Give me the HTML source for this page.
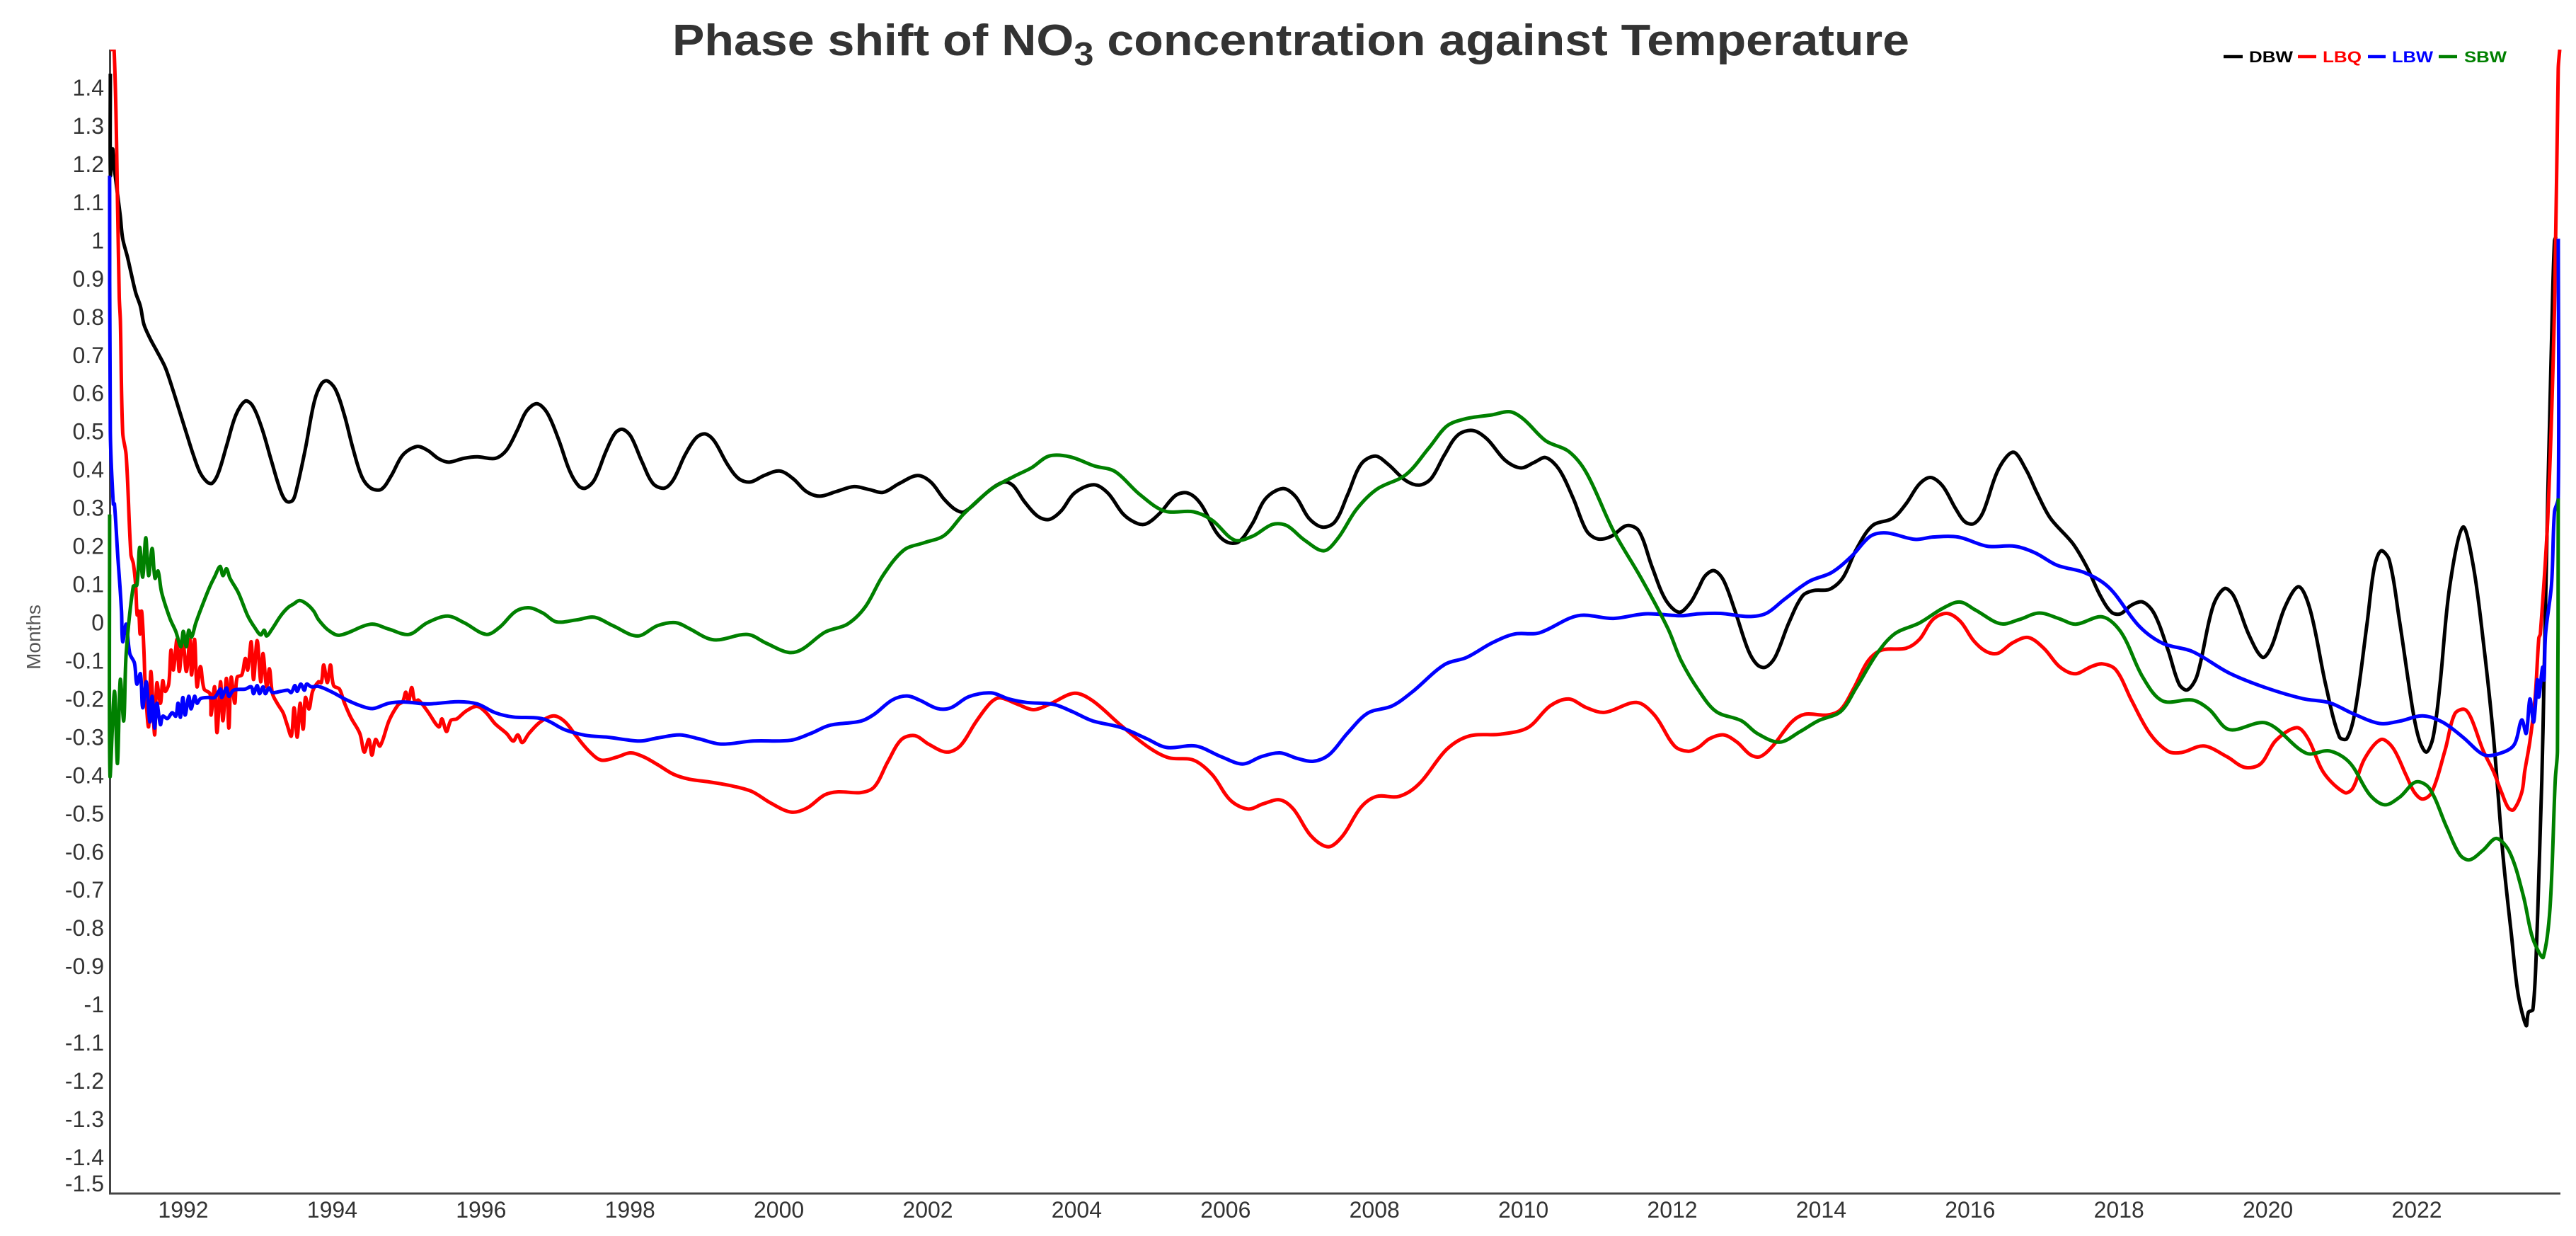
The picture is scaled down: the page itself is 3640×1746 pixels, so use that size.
<!DOCTYPE html>
<html>
<head>
<meta charset="utf-8">
<title>Phase shift of NO3 concentration against Temperature</title>
<style>
html,body{margin:0;padding:0;background:#fff;width:3640px;height:1746px;overflow:hidden}
svg{display:block;font-family:"Liberation Sans",Arial,sans-serif}
.tick{font-size:32px;fill:#333}
.leg{font-size:22px;font-weight:bold}
</style>
</head>
<body>
<svg id="chart" xmlns="http://www.w3.org/2000/svg" width="3640" height="1746" viewBox="0 0 3640 1746">
<rect x="0" y="0" width="3640" height="1746" fill="#ffffff"/>
<defs><clipPath id="plot-clip"><rect x="148" y="70" width="3480" height="1620"/></clipPath></defs>
<text x="950" y="78" font-size="62" font-weight="bold" fill="#333" textLength="1748" lengthAdjust="spacingAndGlyphs">Phase shift of NO<tspan font-size="46" dy="14">3</tspan><tspan dy="-14"> concentration against Temperature</tspan></text>
<text transform="translate(57,900) rotate(-90)" text-anchor="middle" font-size="28" fill="#555">Months</text>
<g id="y-ticks"></g>
<g id="x-ticks"></g>
<line x1="155.5" y1="70" x2="155.5" y2="1687" stroke="#444" stroke-width="3"/>
<line x1="154" y1="1686" x2="3618" y2="1686" stroke="#444" stroke-width="3"/>
<g id="series" clip-path="url(#plot-clip)" fill="none" stroke-width="5" stroke-linejoin="round" stroke-linecap="butt"></g>
<g>
<g>
<line x1="3142" y1="80" x2="3169" y2="80" stroke="#000" stroke-width="4.5"/>
<text class="leg" x="3178" y="88" fill="#000" textLength="62" lengthAdjust="spacingAndGlyphs">DBW</text>
</g>
<g>
<line x1="3247" y1="80" x2="3273" y2="80" stroke="#f00" stroke-width="4.5"/>
<text class="leg" x="3282" y="88" fill="#f00" textLength="55" lengthAdjust="spacingAndGlyphs">LBQ</text>
</g>
<g>
<line x1="3346" y1="80" x2="3371" y2="80" stroke="#00f" stroke-width="4.5"/>
<text class="leg" x="3380" y="88" fill="#00f" textLength="58" lengthAdjust="spacingAndGlyphs">LBW</text>
</g>
<g>
<line x1="3446" y1="80" x2="3472" y2="80" stroke="#008000" stroke-width="4.5"/>
<text class="leg" x="3482" y="88" fill="#008000" textLength="60" lengthAdjust="spacingAndGlyphs">SBW</text>
</g>
</g>
</svg>
<script>
const yTickValues = [1.4,1.3,1.2,1.1,1,0.9,0.8,0.7,0.6,0.5,0.4,0.3,0.2,0.1,0,-0.1,-0.2,-0.3,-0.4,-0.5,-0.6,-0.7,-0.8,-0.9,-1,-1.1,-1.2,-1.3,-1.4,-1.5];
const xTickYears = [1992,1994,1996,1998,2000,2002,2004,2006,2008,2010,2012,2014,2016,2018,2020,2022];

const dbwYears = [1991.02,1991.021,1991.05,1991.07,1991.154,1991.186,1991.249,1991.297,1991.36,1991.424,1991.471,1991.55,1991.63,1991.756,1991.851,1991.946,1992.04,1992.137,1992.23,1992.327,1992.39,1992.47,1992.58,1992.707,1992.834,1992.93,1993.055,1993.18,1993.31,1993.39,1993.47,1993.52,1993.64,1993.76,1993.855,1993.93,1994.04,1994.16,1994.28,1994.40,1994.52,1994.66,1994.795,1994.95,1995.14,1995.28,1995.43,1995.565,1995.765,1995.95,1996.19,1996.34,1996.49,1996.61,1996.75,1996.885,1997.04,1997.19,1997.31,1997.40,1997.52,1997.675,1997.8,1997.9,1998.01,1998.16,1998.31,1998.46,1998.58,1998.74,1998.89,1999.01,1999.13,1999.31,1999.46,1999.615,1999.8,2000.01,2000.19,2000.37,2000.55,2000.77,2001.01,2001.22,2001.40,2001.615,2001.86,2002.04,2002.22,2002.37,2002.49,2002.846,2003.03,2003.15,2003.30,2003.48,2003.63,2003.79,2003.97,2004.23,2004.42,2004.63,2004.82,2004.94,2005.12,2005.33,2005.495,2005.665,2005.88,2006.03,2006.18,2006.36,2006.54,2006.77,2006.94,2007.12,2007.30,2007.47,2007.64,2007.82,2008.01,2008.18,2008.42,2008.605,2008.76,2008.94,2009.12,2009.32,2009.51,2009.76,2009.97,2010.15,2010.30,2010.48,2010.67,2010.85,2011.0,2011.18,2011.39,2011.55,2011.73,2011.91,2012.09,2012.24,2012.35,2012.44,2012.56,2012.685,2012.84,2013.02,2013.14,2013.25,2013.38,2013.565,2013.75,2013.9,2014.11,2014.29,2014.475,2014.69,2014.96,2015.14,2015.32,2015.47,2015.63,2015.81,2015.93,2016.05,2016.17,2016.38,2016.58,2016.75,2016.9,2017.08,2017.38,2017.57,2017.75,2017.9,2018.02,2018.17,2018.32,2018.475,2018.66,2018.81,2018.92,2019.05,2019.26,2019.415,2019.54,2019.75,2019.93,2020.05,2020.23,2020.415,2020.57,2020.78,2020.96,2021.06,2021.17,2021.33,2021.43,2021.52,2021.63,2021.77,2021.95,2022.04,2022.13,2022.22,2022.31,2022.44,2022.62,2022.76,2022.89,2023.03,2023.16,2023.27,2023.36,2023.47,2023.5,2023.56,2023.61,2023.68,2023.71,2023.76,2023.82,2023.85,2023.87];
const dbwValues = [1.437,1.171,1.24,1.195,1.064,1.005,.958,.917,.864,.828,.781,.745,.716,.669,.615,.556,.497,.438,.391,.367,.365,.391,.462,.544,.58,.568,.509,.426,.343,.317,.32,.348,.455,.579,.625,.633,.612,.546,.455,.381,.352,.349,.385,.439,.461,.451,.429,.42,.43,.434,.43,.451,.505,.554,.573,.55,.48,.397,.358,.352,.373,.447,.496,.506,.488,.422,.364,.352,.373,.439,.484,.494,.476,.414,.377,.368,.385,.397,.377,.343,.331,.343,.356,.348,.341,.364,.385,.368,.323,.296,.29,.349,.368,.358,.316,.278,.27,.292,.339,.361,.339,.283,.259,.259,.287,.333,.339,.311,.235,.21,.212,.259,.325,.351,.33,.273,.25,.264,.335,.415,.436,.415,.372,.36,.377,.439,.491,.503,.481,.424,.405,.42,.432,.401,.325,.24,.219,.226,.254,.24,.145,.06,.027,.051,.089,.122,.136,.112,.032,-.072,-.11,-.117,-.091,-.001,.07,.084,.087,.117,.193,.254,.273,.311,.363,.38,.358,.297,.264,.259,.287,.401,.446,.401,.339,.273,.207,.145,.07,.027,.023,.046,.054,.023,-.072,-.162,-.176,-.138,.041,.089,.07,-.034,-.091,-.062,.041,.094,.032,-.166,-.299,-.304,-.233,-.006,.145,.188,.164,.002,-.233,-.311,-.339,-.3,-.166,.091,.25,.147,-.043,-.3,-.613,-.815,-.971,-1.055,-1.02,-1.013,-.837,-.412,-.136,.337,.82,1.0,1.01];

const lbqYears = [1991.02,1991.07,1991.12,1991.14,1991.155,1991.186,1991.233,1991.297,1991.33,1991.36,1991.38,1991.40,1991.42,1991.44,1991.47,1991.487,1991.534,1991.566,1991.614,1991.645,1991.693,1991.724,1991.756,1991.804,1991.835,1991.867,1991.915,1991.946,1991.994,1992.041,1992.089,1992.111,1992.152,1992.184,1992.231,1992.279,1992.358,1992.374,1992.421,1992.453,1992.5,1992.532,1992.58,1992.612,1992.643,1992.691,1992.723,1992.786,1992.833,1992.865,1992.913,1992.944,1992.992,1993.04,1993.071,1993.119,1993.157,1993.198,1993.261,1993.34,1993.388,1993.451,1993.489,1993.53,1993.569,1993.61,1993.641,1993.689,1993.737,1993.816,1993.855,1993.886,1993.934,1993.977,1994.019,1994.098,1994.158,1994.249,1994.371,1994.431,1994.492,1994.534,1994.583,1994.643,1994.765,1994.886,1994.947,1994.989,1995.025,1995.068,1995.11,1995.159,1995.28,1995.432,1995.474,1995.535,1995.595,1995.674,1995.795,1995.947,1996.068,1996.189,1996.341,1996.432,1996.493,1996.553,1996.644,1996.796,1996.977,1997.129,1997.281,1997.462,1997.614,1997.826,1998.008,1998.19,1998.372,1998.584,1998.796,1999.099,1999.402,1999.645,1999.887,2000.16,2000.373,2000.615,2000.797,2001.1,2001.282,2001.464,2001.646,2001.828,2002.009,2002.252,2002.434,2002.646,2002.846,2002.97,2003.21,2003.42,2003.63,2003.97,2004.21,2004.60,2004.97,2005.24,2005.57,2005.82,2006.06,2006.30,2006.51,2006.73,2006.91,2007.15,2007.38,2007.57,2007.82,2008.03,2008.33,2008.6,2008.97,2009.27,2009.7,2010.06,2010.36,2010.61,2010.85,2011.09,2011.52,2011.76,2012.03,2012.21,2012.35,2012.5,2012.69,2012.87,2013.05,2013.18,2013.35,2013.6,2013.78,2014.08,2014.26,2014.44,2014.63,2014.81,2015.14,2015.32,2015.5,2015.69,2015.87,2016.05,2016.23,2016.38,2016.57,2016.78,2016.99,2017.2,2017.41,2017.63,2017.78,2017.96,2018.17,2018.41,2018.66,2018.84,2019.14,2019.45,2019.69,2019.9,2020.11,2020.39,2020.54,2020.75,2021.03,2021.14,2021.3,2021.52,2021.68,2021.86,2021.97,2022.08,2022.2,2022.38,2022.51,2022.64,2022.73,2022.89,2023.03,2023.14,2023.23,2023.3,2023.41,2023.45,2023.52,2023.59,2023.64,2023.66,2023.76,2023.85,2023.9,2023.92];
const lbqValues = [1.5,1.5,1.065,.852,.79,.497,.438,.178,.154,.098,.02,.03,-.03,.03,-.066,-.155,-.273,-.128,-.294,-.158,-.211,-.152,-.18,-.161,-.072,-.124,-.044,-.128,-.044,-.128,-.044,-.137,-.044,-.168,-.115,-.174,-.186,-.242,-.168,-.288,-.155,-.257,-.146,-.276,-.143,-.211,-.143,-.137,-.094,-.124,-.05,-.149,-.047,-.155,-.081,-.168,-.121,-.186,-.211,-.236,-.263,-.297,-.223,-.3,-.211,-.279,-.196,-.226,-.18,-.155,-.157,-.111,-.157,-.111,-.165,-.174,-.207,-.248,-.29,-.339,-.306,-.347,-.306,-.323,-.256,-.215,-.207,-.182,-.207,-.17,-.207,-.203,-.232,-.273,-.252,-.285,-.256,-.252,-.232,-.219,-.236,-.265,-.29,-.31,-.294,-.314,-.29,-.26,-.244,-.26,-.298,-.339,-.36,-.352,-.341,-.352,-.372,-.397,-.41,-.418,-.429,-.443,-.472,-.496,-.486,-.451,-.443,-.445,-.43,-.364,-.306,-.296,-.318,-.339,-.323,-.26,-.209,-.197,-.214,-.228,-.214,-.185,-.204,-.27,-.327,-.354,-.36,-.398,-.464,-.488,-.474,-.464,-.488,-.559,-.587,-.559,-.483,-.455,-.455,-.422,-.332,-.297,-.292,-.275,-.218,-.2,-.223,-.235,-.209,-.242,-.323,-.337,-.327,-.304,-.294,-.313,-.346,-.351,-.323,-.261,-.24,-.242,-.228,-.171,-.1,-.072,-.067,-.044,.008,.024,.003,-.048,-.077,-.08,-.053,-.039,-.067,-.115,-.134,-.115,-.108,-.124,-.204,-.289,-.337,-.34,-.323,-.351,-.379,-.37,-.308,-.275,-.304,-.393,-.445,-.434,-.356,-.306,-.328,-.401,-.445,-.462,-.445,-.334,-.239,-.227,-.25,-.334,-.39,-.445,-.485,-.49,-.445,-.39,-.31,-.195,-.04,-.03,.277,.82,1.45,1.5];

const lbwYears = [1991.01,1991.02,1991.06,1991.075,1991.122,1991.15,1991.17,1991.186,1991.233,1991.281,1991.344,1991.376,1991.424,1991.455,1991.503,1991.55,1991.582,1991.614,1991.645,1991.693,1991.724,1991.788,1991.851,1991.899,1991.93,1991.962,1991.994,1992.025,1992.073,1992.105,1992.152,1992.184,1992.231,1992.326,1992.421,1992.5,1992.516,1992.58,1992.612,1992.675,1992.833,1992.913,1992.944,1992.992,1993.024,1993.071,1993.103,1993.15,1993.198,1993.309,1993.404,1993.451,1993.499,1993.53,1993.578,1993.626,1993.657,1993.72,1993.816,1994.0,1994.19,1994.4,1994.55,1994.76,1994.98,1995.28,1995.7,1995.95,1996.19,1996.43,1996.83,1997.13,1997.4,1997.7,1998.13,1998.37,1998.67,1998.92,1999.22,1999.65,2000.16,2000.43,2000.68,2001.1,2001.28,2001.52,2001.72,2001.89,2002.13,2002.31,2002.55,2002.85,2003.09,2003.33,2003.69,2003.94,2004.21,2004.6,2004.94,2005.21,2005.6,2005.94,2006.23,2006.48,2006.73,2006.97,2007.18,2007.39,2007.64,2007.91,2008.24,2008.51,2008.94,2009.24,2009.58,2009.88,2010.21,2010.73,2011.21,2011.64,2012.12,2012.35,2012.65,2013.02,2013.26,2013.5,2013.84,2014.14,2014.41,2014.66,2014.87,2015.26,2015.5,2015.84,2016.23,2016.6,2016.87,2017.17,2017.55,2017.87,2018.27,2018.585,2018.99,2019.48,2019.98,2020.47,2020.83,2021.14,2021.5,2021.77,2022.08,2022.35,2022.62,2022.89,2023.07,2023.3,2023.41,2023.47,2023.52,2023.57,2023.62,2023.64,2023.69,2023.71,2023.73,2023.81,2023.85,2023.9,2023.901];
const lbwValues = [1.17,.5,.31,.311,.169,.092,.03,-.05,-.004,-.081,-.106,-.161,-.134,-.223,-.155,-.26,-.193,-.276,-.211,-.267,-.245,-.251,-.236,-.245,-.211,-.248,-.196,-.242,-.193,-.226,-.193,-.211,-.199,-.196,-.196,-.174,-.196,-.171,-.193,-.177,-.174,-.168,-.186,-.165,-.186,-.168,-.186,-.171,-.183,-.18,-.177,-.183,-.165,-.18,-.161,-.177,-.161,-.168,-.167,-.182,-.202,-.219,-.225,-.211,-.208,-.213,-.207,-.213,-.236,-.247,-.252,-.281,-.295,-.3,-.31,-.302,-.294,-.304,-.318,-.31,-.308,-.29,-.269,-.258,-.24,-.203,-.192,-.203,-.225,-.223,-.194,-.184,-.2,-.209,-.214,-.233,-.257,-.275,-.304,-.327,-.323,-.351,-.37,-.351,-.341,-.356,-.363,-.346,-.289,-.237,-.218,-.181,-.11,-.091,-.053,-.03,-.027,.018,.011,.023,.018,.023,.024,.016,.024,.06,.108,.131,.174,.226,.235,.218,.224,.224,.2,.2,.183,.15,.13,.091,-.009,-.054,-.076,-.132,-.171,-.199,-.21,-.238,-.264,-.258,-.244,-.261,-.3,-.345,-.345,-.322,-.255,-.29,-.2,-.26,-.15,-.195,-.117,-.15,-.03,.1,.29,.325,1.005];

const sbwYears = [1991.01,1991.015,1991.075,1991.116,1991.154,1991.2,1991.233,1991.328,1991.376,1991.414,1991.455,1991.496,1991.534,1991.582,1991.62,1991.661,1991.709,1991.82,1991.899,1991.968,1992.0,1992.041,1992.073,1992.111,1992.168,1992.263,1992.358,1992.421,1992.494,1992.532,1992.58,1992.627,1992.738,1992.865,1992.96,1993.04,1993.087,1993.119,1993.182,1993.309,1993.404,1993.483,1993.562,1993.657,1993.752,1993.816,1993.95,1994.1,1994.52,1994.76,1995.03,1995.28,1995.55,1995.77,1996.07,1996.25,1996.46,1996.64,1996.83,1997.01,1997.28,1997.52,1997.77,1998.1,1998.37,1998.61,1998.8,1999.04,1999.19,1999.58,1999.83,2000.13,2000.31,2000.62,2000.92,2001.16,2001.4,2001.68,2001.95,2002.22,2002.49,2002.85,2003.15,2003.39,2003.63,2003.91,2004.24,2004.51,2004.85,2005.18,2005.57,2005.82,2006.12,2006.36,2006.63,2006.82,2007.06,2007.32,2007.51,2007.76,2008.03,2008.42,2008.73,2008.97,2009.21,2009.58,2009.82,2010.0,2010.3,2010.61,2010.85,2011.21,2011.58,2011.94,2012.12,2012.35,2012.59,2012.93,2013.14,2013.44,2013.72,2013.96,2014.26,2014.47,2014.75,2014.99,2015.32,2015.63,2015.86,2016.08,2016.41,2016.66,2016.93,2017.2,2017.42,2017.78,2018.03,2018.32,2018.585,2018.99,2019.21,2019.48,2019.98,2020.515,2020.83,2021.1,2021.37,2021.57,2021.77,2021.99,2022.17,2022.4,2022.58,2022.71,2022.89,2023.07,2023.25,2023.43,2023.54,2023.63,2023.7,2023.79,2023.86,2023.89,2023.9];
const sbwValues = [.283,-.4,-.18,-.369,-.149,-.257,-.081,.095,.098,.197,.119,.222,.123,.194,.116,.135,.079,.011,-.023,-.063,-.023,-.063,-.02,-.038,-.001,.049,.095,.12,.147,.123,.141,.116,.079,.018,-.013,-.032,-.02,-.035,-.02,.018,.039,.049,.058,.049,.03,.008,-.02,-.033,-.004,-.017,-.031,0,.017,0,-.031,-.012,.029,.039,.025,.002,.007,.014,-.008,-.035,-.008,0,-.016,-.041,-.045,-.031,-.054,-.078,-.07,-.025,-.004,.041,.124,.19,.209,.228,.286,.349,.382,.405,.436,.434,.41,.396,.335,.292,.29,.268,.216,.226,.257,.254,.216,.188,.221,.297,.349,.387,.457,.514,.533,.544,.552,.533,.476,.448,.391,.24,.117,-.015,-.1,-.176,-.233,-.257,-.29,-.313,-.285,-.257,-.233,-.171,-.081,-.029,-.001,.037,.054,.032,-.003,.008,.025,.01,-.004,.015,-.026,-.143,-.205,-.203,-.227,-.28,-.263,-.342,-.336,-.367,-.451,-.477,-.457,-.417,-.434,-.535,-.608,-.621,-.596,-.565,-.602,-.714,-.815,-.859,-.876,-.747,-.412,-.335,.325];

const seriesNames = ['DBW','LBQ','LBW','SBW'];
const seriesColors = ['#000000','#ff0000','#0000ff','#008000'];
const seriesYears = [dbwYears,lbqYears,lbwYears,sbwYears];
const seriesValues = [dbwValues,lbqValues,lbwValues,sbwValues];

const SVGNS = 'http://www.w3.org/2000/svg';
function xScale(year){ return 259 + (year - 1992) * 105.2; }
function yScale(value){ return 879.5 - value * 539.6; }

function smoothPath(xs, ys){
  const n = Math.min(xs.length, ys.length);
  const pts = [];
  for (let i = 0; i < n; i++) pts.push([xScale(xs[i]), yScale(ys[i])]);
  const dist = (a,b) => Math.hypot(a[0]-b[0], a[1]-b[1]);
  let d = 'M' + pts[0][0].toFixed(1) + ' ' + pts[0][1].toFixed(1);
  for (let i = 0; i < n - 1; i++){
    const p0 = pts[i-1] || pts[i], p1 = pts[i], p2 = pts[i+1], p3 = pts[i+2] || pts[i+1];
    const d1 = dist(p0,p1), d2 = dist(p1,p2), d3 = dist(p2,p3);
    const a = d2 / (3 * ((d1 + d2) || 1));
    const b = d2 / (3 * ((d2 + d3) || 1));
    const c1x = p1[0] + (p2[0]-p0[0]) * a, c1y = p1[1] + (p2[1]-p0[1]) * a;
    const c2x = p2[0] - (p3[0]-p1[0]) * b, c2y = p2[1] - (p3[1]-p1[1]) * b;
    d += 'C' + c1x.toFixed(1) + ' ' + c1y.toFixed(1) + ' ' + c2x.toFixed(1) + ' ' + c2y.toFixed(1) + ' ' + p2[0].toFixed(1) + ' ' + p2[1].toFixed(1);
  }
  return d;
}

const yGroup = document.getElementById('y-ticks');
yTickValues.forEach(function(v){
  const t = document.createElementNS(SVGNS, 'text');
  t.setAttribute('class', 'tick');
  t.setAttribute('x', 147);
  t.setAttribute('y', Math.min(yScale(v), 1672) + 11);
  t.setAttribute('text-anchor', 'end');
  
  
  t.textContent = String(v);
  yGroup.appendChild(t);
});

const xGroup = document.getElementById('x-ticks');
xTickYears.forEach(function(y){
  const t = document.createElementNS(SVGNS, 'text');
  t.setAttribute('class', 'tick');
  t.setAttribute('x', xScale(y));
  t.setAttribute('y', 1720);
  t.setAttribute('text-anchor', 'middle');
  
  
  t.textContent = String(y);
  xGroup.appendChild(t);
});

const sGroup = document.getElementById('series');
seriesNames.forEach(function(name, i){
  const p = document.createElementNS(SVGNS, 'path');
  p.setAttribute('d', smoothPath(seriesYears[i], seriesValues[i]));
  p.setAttribute('stroke', seriesColors[i]);
  
  
  p.setAttribute('aria-label', name);
  sGroup.appendChild(p);
});
</script>
</body>
</html>
